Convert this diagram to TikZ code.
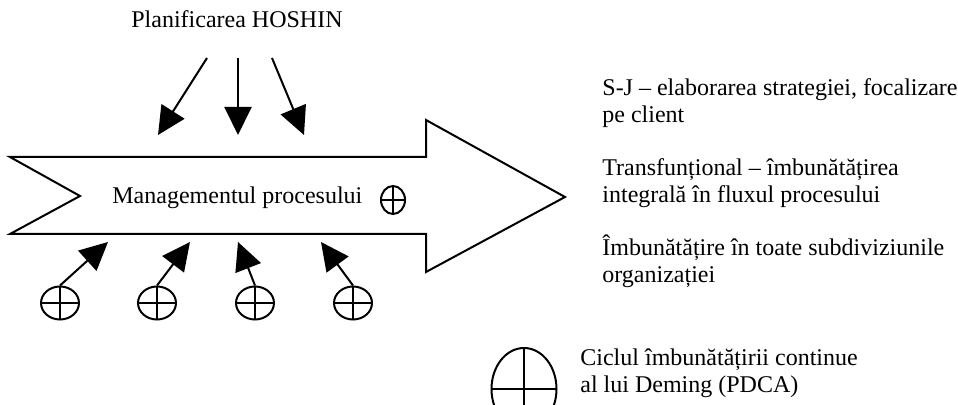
\documentclass[tikz,border=0pt]{standalone}
\usepackage{fontspec}
\setmainfont{Liberation Serif}
\usetikzlibrary{arrows.meta,shapes.geometric}
\tikzset{
	pdca/.style={draw, ellipse, line width=1pt, inner sep=0pt, minimum width=19pt, minimum height=16.5pt,
		path picture={\draw[line width=1pt] (path picture bounding box.north) -- (path picture bounding box.south)
			(path picture bounding box.west) -- (path picture bounding box.east);}},
	push/.style={line width=1pt, -{Triangle[length=14pt, width=13.5pt]}},
	txt/.style={font=\fontsize{12}{13.8}\selectfont, inner sep=0pt, align=left, anchor=base west}
}

\begin{document}
\begin{tikzpicture}[x=0.5pt, y=-0.5pt]
		%%%%% START %%%%%
		\useasboundingbox (0, 0) rectangle (958, 405);
		
		\node[txt, anchor=base] (hoshin) at (237, 28) {Planificarea HOSHIN};
		
		% process arrow
		\draw[line width=1pt, line join=miter] (10, 157) -- (426, 157) -- (426, 120) -- (565, 197)
			-- (426, 272) -- (426, 234) -- (10, 234) -- (80, 196) -- cycle;
		\node[txt] (proces) at (112, 204) {Managementul procesului};
		\node[pdca, minimum width=12pt, minimum height=14pt] (mp) at (393, 200) {};
		
		% from HOSHIN
		\coordinate (h1) at (207, 58);
		\coordinate (h2) at (238, 58);
		\coordinate (h3) at (272, 58);
		\coordinate (t1) at (158, 135);
		\coordinate (t2) at (238, 135);
		\coordinate (t3) at (304, 135);
		\draw[push] (h1) -- (t1);
		\draw[push] (h2) -- (t2);
		\draw[push] (h3) -- (t3);
		
		% PDCA cycles below
		\node[pdca] (c1) at (60, 303) {};
		\node[pdca] (c2) at (157, 303) {};
		\node[pdca] (c3) at (255, 303) {};
		\node[pdca] (c4) at (353, 303) {};
		\coordinate (b1) at (108, 242);
		\coordinate (b2) at (190, 242);
		\coordinate (b3) at (238, 242);
		\coordinate (b4) at (321, 242);
		\draw[push] (c1.north) -- (b1);
		\draw[push] (c2.north) -- (b2);
		\draw[push] (c3.north) -- (b3);
		\draw[push] (c4.north) -- (b4);
		
		% right column (base = last line)
		\node[txt] (sj) at (602, 123) {S-J – elaborarea strategiei, focalizare\\pe client};
		\node[txt] (trans) at (602, 203) {Transfunțional – îmbunătățirea\\integrală în fluxul procesului};
		\node[txt] (subdiv) at (602, 283) {Îmbunătățire în toate subdiviziunile\\organizației};
		
		% legend
		\node[pdca, minimum width=32.5pt, minimum height=41pt] (big) at (524, 389) {};
		\node[txt] (deming) at (580, 393) {Ciclul îmbunătățirii continue\\al lui Deming (PDCA)};
		%%%%% END %%%%%
\end{tikzpicture}
\end{document}
